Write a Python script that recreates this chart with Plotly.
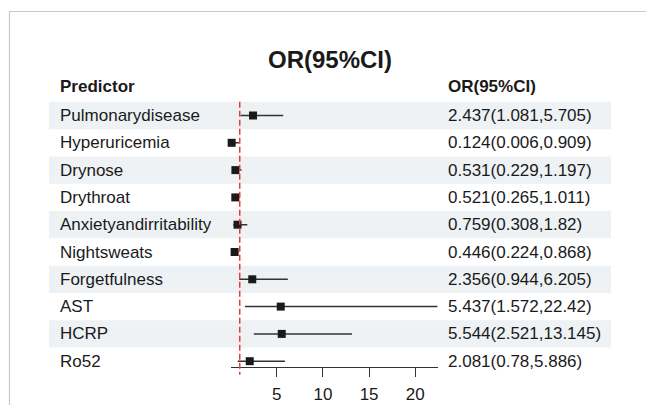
import plotly.graph_objects as go

predictors = ["Pulmonarydisease", "Hyperuricemia", "Drynose", "Drythroat",
              "Anxietyandirritability", "Nightsweats", "Forgetfulness", "AST",
              "HCRP", "Ro52"]
or_vals = [2.437, 0.124, 0.531, 0.521, 0.759, 0.446, 2.356, 5.437, 5.544, 2.081]
ci_low = [1.081, 0.006, 0.229, 0.265, 0.308, 0.224, 0.944, 1.572, 2.521, 0.78]
ci_high = [5.705, 0.909, 1.197, 1.011, 1.82, 0.868, 6.205, 22.42, 13.145, 5.886]
or_text = ["2.437(1.081,5.705)", "0.124(0.006,0.909)", "0.531(0.229,1.197)",
           "0.521(0.265,1.011)", "0.759(0.308,1.82)", "0.446(0.224,0.868)",
           "2.356(0.944,6.205)", "5.437(1.572,22.42)", "5.544(2.521,13.145)",
           "2.081(0.78,5.886)"]
x_ticks = [5, 10, 15, 20]
ref_value = 1

W, H = 646, 405
FONT = "Liberation Sans, Arial, Helvetica, sans-serif"
row0_px, pitch = 115.5, 27.3
n = len(predictors)
idx = list(range(n))

def px(x):
    return x / W

y_top = -row0_px / pitch
y_bot = (H - row0_px) / pitch

fig = go.Figure()

fig.add_trace(go.Scatter(
    x=or_vals, y=idx, mode="markers",
    marker=dict(symbol="square", size=8, color="#1a1a1a"),
    error_x=dict(type="data", symmetric=False,
                 array=[h - o for h, o in zip(ci_high, or_vals)],
                 arrayminus=[o - l for o, l in zip(or_vals, ci_low)],
                 color="#333333", thickness=1.5, width=0),
    showlegend=False, hoverinfo="skip", cliponaxis=False,
))

shapes = []
for i in idx:
    if i % 2 == 0:
        shapes.append(dict(type="rect", xref="paper", yref="y",
                           x0=px(49), x1=px(611), y0=i - 0.5, y1=i + 0.5,
                           fillcolor="#eef2f5", line=dict(width=0), layer="below"))
shapes.append(dict(type="line", xref="x", yref="y", x0=ref_value, x1=ref_value,
                   y0=-0.5, y1=n - 0.5,
                   line=dict(color="#ec3b30", width=1.5, dash="6px,3px")))
# frame
shapes.append(dict(type="line", xref="paper", yref="paper", x0=px(9), x1=1,
                   y0=1 - 11.5 / H, y1=1 - 11.5 / H, line=dict(color="#c8c8c8", width=1.2)))
shapes.append(dict(type="line", xref="paper", yref="paper", x0=px(9.5), x1=px(9.5),
                   y0=0, y1=1 - 11.5 / H, line=dict(color="#c8c8c8", width=1.2)))

annotations = []
for i, (p, t) in enumerate(zip(predictors, or_text)):
    annotations.append(dict(x=px(58), y=i, xref="paper", yref="y", text=p,
                            showarrow=False, xanchor="left", yanchor="middle",
                            font=dict(family=FONT, size=17, color="#1a1a1a")))
    annotations.append(dict(x=px(446), y=i, xref="paper", yref="y", text=t,
                            showarrow=False, xanchor="left", yanchor="middle",
                            font=dict(family=FONT, size=17, color="#1a1a1a")))
annotations.append(dict(x=px(58), y=1 - 87 / H, xref="paper", yref="paper",
                        text="<b>Predictor</b>", showarrow=False, xanchor="left",
                        yanchor="middle", font=dict(family=FONT, size=17, color="#1a1a1a")))
annotations.append(dict(x=px(446), y=1 - 87 / H, xref="paper", yref="paper",
                        text="<b>OR(95%CI)</b>", showarrow=False, xanchor="left",
                        yanchor="middle", font=dict(family=FONT, size=17, color="#1a1a1a")))
annotations.append(dict(x=px(330), y=1 - 59 / H, xref="paper", yref="paper",
                        text="<b>OR(95%CI)</b>", showarrow=False, xanchor="center",
                        yanchor="middle", font=dict(family=FONT, size=24, color="#1a1a1a")))

x0_px = 230.5
unit = 9.24
fig.update_layout(
    width=W, height=H, margin=dict(l=0, r=0, t=0, b=0),
    paper_bgcolor="white", plot_bgcolor="rgba(0,0,0,0)",
    shapes=shapes, annotations=annotations,
    xaxis=dict(domain=[px(x0_px), px(x0_px + unit * max(ci_high))],
               range=[0, max(ci_high)], anchor="free", position=(H - 367) / H,
               tickvals=x_ticks, ticktext=[str(v) for v in x_ticks],
               showline=True, linecolor="#333333", linewidth=1,
               ticks="outside", ticklen=9, tickcolor="#333333", tickwidth=1,
               ticklabelstandoff=3,
               showgrid=False, zeroline=False, automargin=False,
               tickfont=dict(family=FONT, size=17, color="#1a1a1a")),
    yaxis=dict(domain=[0, 1], range=[y_bot, y_top], visible=False,
               showgrid=False, zeroline=False, automargin=False),
)

fig.write_html(
    "out.html",
    config={"displayModeBar": False, "staticPlot": True},
    post_script="document.body.style.margin='0';document.body.style.overflow='hidden';",
)
